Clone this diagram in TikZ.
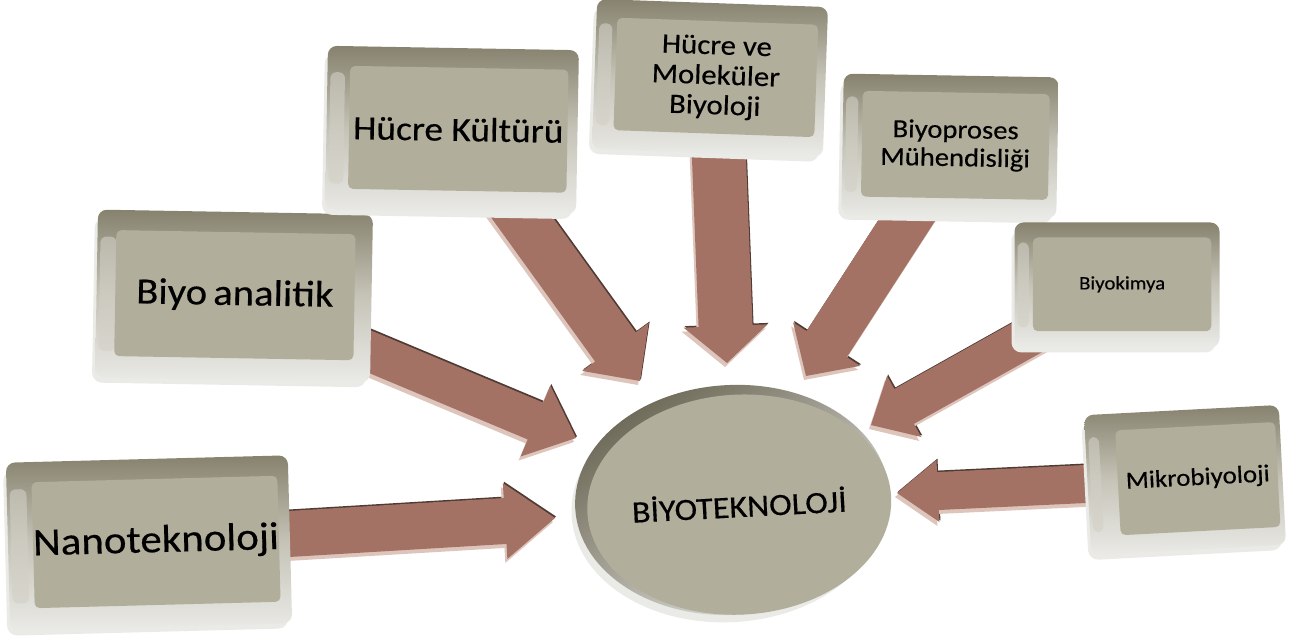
\documentclass[tikz,border=0pt]{standalone}
\usepackage{fontspec}
\setmainfont{Carlito}[FakeStretch=1.1, FakeBold=0.4]
\usetikzlibrary{shapes.geometric}
\definecolor{face}{HTML}{B2AE9C}
\definecolor{bevtop}{HTML}{86826E}
\definecolor{bevmid}{HTML}{C6C4B8}
\definecolor{bevbot}{HTML}{EAEAE7}
\definecolor{bevleft}{HTML}{D2D0C6}
\definecolor{arrowc}{HTML}{A37264}
\definecolor{arrowl}{HTML}{DDC5BB}
\definecolor{arrowd}{HTML}{4E3B34}
\definecolor{rimdark}{HTML}{6C6856}
\pgfdeclarelayer{bg}\pgfdeclarelayer{arrows}\pgfsetlayers{bg,arrows,main}
\newcommand\fs[2]{\fontsize{#1}{#2}\selectfont}
\tikzset{
  facebox/.style={rectangle, rounded corners=5pt, fill=face, inner sep=0pt, align=center, transform shape},
  bevelshade/.style={top color=bevtop, bottom color=bevbot, middle color=bevmid, rounded corners=9pt},
  arrowmain/.style={fill=arrowc},
  arrowlight/.style={fill=arrowl},
  arrowdark/.style={fill=arrowd},
}
% #1 options, #2 name, #3 cx, #4 cy (image px), #5 w, #6 h, #7 angle, #8 text
\newcommand\bevbox[8][]{%
  \begin{scope}[shift={(#3,{642-#4})}, rotate=#7]
    \fill[bevbot, rounded corners=10pt] ({-#5/2-3},{-#6/2-5}) rectangle ({#5/2-4},{#6/2-8});
    \shade[bevelshade] ({-#5/2},{-#6/2}) rectangle ({#5/2},{#6/2});
    \fill[bevleft, opacity=0.6, rounded corners=6pt] ({-#5/2+3},{-#6/2+0.16*#6}) rectangle ({-#5/2+0.07*#5},{#6/2-0.16*#6});
    \node[facebox, minimum width={0.87*#5*1pt}, minimum height={0.75*#6*1pt}, #1] (#2) at ({0.025*#5},{0.005*#6}) {#8};
  \end{scope}}
% #1 from, #2 to, #3 shaft width, #4 head width, #5 head length
\newcommand\blockarrow[5]{%
  \pgfpointdiff{\pgfpointanchor{#1}{center}}{\pgfpointanchor{#2}{center}}%
  \pgfgetlastxy{\arx}{\ary}%
  \pgfmathsetmacro\arang{atan2(\ary,\arx)}%
  \pgfmathsetmacro\arlen{veclen(\arx,\ary)}%
  \begin{scope}[shift={(#2)}]
    \foreach \sty/\dx/\dy in {arrowdark/1/1.5, arrowlight/-2/-4, arrowmain/0/0}{
      \fill[\sty, shift={(\dx,\dy)}, rotate=\arang] (-\arlen,#3/2) -- (-#5,#3/2) -- (-#5,#4/2) -- (0,0) -- (-#5,-#4/2) -- (-#5,-#3/2) -- (-\arlen,-#3/2) -- cycle;
    }
  \end{scope}}
\begin{document}
\begin{tikzpicture}[x=1pt, y=1pt]
\useasboundingbox (0,0) rectangle (1298,642);
\begin{pgfonlayer}{bg}
  \fill[white] (0,0) rectangle (1298,642);
\end{pgfonlayer}

% boxes
\bevbox[font=\fs{39}{43}]{nano}{149}{543}{282}{168}{1.5}{Nanoteknoloji}
\bevbox[font=\fs{37}{40}, xshift=-6pt]{bioan}{234}{296}{275}{168}{-1}{Biyo\,analitik}
\bevbox[font=\fs{34}{37}]{hk}{452}{130}{251}{164}{-1}{Hücre Kültürü}
\bevbox[font=\fs{28}{30}]{hm}{710}{78}{231}{150}{-2}{Hücre ve\\Moleküler\\Biyoloji}
\bevbox[font=\fs{26}{28}]{bp}{950}{146}{215}{141}{-1}{Biyoproses\\Mühendisliği}
\bevbox[font=\fs{19}{22}]{bk}{1117}{285}{205}{125}{0}{Biyokimya}
\bevbox[font=\fs{24.5}{27}, xshift=8pt, minimum width=160pt]{mk}{1185}{480}{195}{140}{3}{Mikrobiyoloji}

% central ellipse
\begin{scope}[shift={(732,142)}, rotate=3]
  \fill[bevbot] (-4,-7) ellipse [x radius=157, y radius=115];
  \shade[top color=rimdark, bottom color=bevbot, shading angle=35] (0,0) ellipse [x radius=157, y radius=115];
  \node[ellipse, fill=face, minimum width=298pt, minimum height=220pt, inner sep=0pt, transform shape, font=\fs{31}{34}] (bio) at (7,-5) {BİYOTEKNOLOJİ};
\end{scope}

% arrow tips
\coordinate (tN) at (555,{642-518});
\coordinate (tBa) at (576,{642-438});
\coordinate (tHK) at (640,{642-381});
\coordinate (tHM) at (727,{642-363});
\coordinate (tBp) at (806,{642-376});
\coordinate (tBk) at (871,{642-425});
\coordinate (tMk) at (897,{642-493});

\begin{pgfonlayer}{arrows}
  \blockarrow{nano}{tN}{46}{76}{50}
  \blockarrow{bioan}{tBa}{40}{77}{44}
  \blockarrow{hk}{tHK}{50}{82}{42}
  \blockarrow{hm}{tHM}{54}{84}{37}
  \blockarrow{bp}{tBp}{48}{80}{38}
  \blockarrow{bk}{tBk}{40}{70}{38}
  \blockarrow{mk}{tMk}{38}{62}{41}
\end{pgfonlayer}
\end{tikzpicture}
\end{document}
